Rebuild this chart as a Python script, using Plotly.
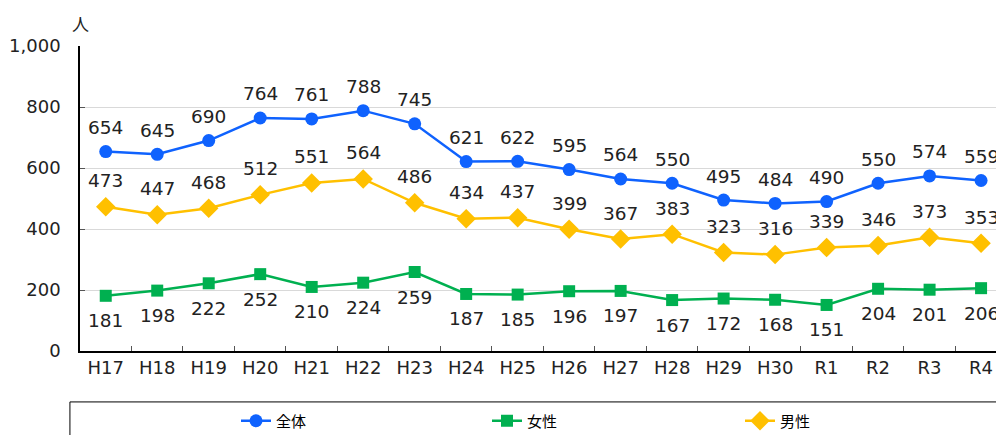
import plotly.graph_objects as go

categories = ["H17", "H18", "H19", "H20", "H21", "H22", "H23", "H24", "H25",
              "H26", "H27", "H28", "H29", "H30", "R1", "R2", "R3", "R4"]
total = [654, 645, 690, 764, 761, 788, 745, 621, 622, 595, 564, 550, 495, 484, 490, 550, 574, 559]
female = [181, 198, 222, 252, 210, 224, 259, 187, 185, 196, 197, 167, 172, 168, 151, 204, 201, 206]
male = [473, 447, 468, 512, 551, 564, 486, 434, 437, 399, 367, 383, 323, 316, 339, 346, 373, 353]
y_ticks = [0, 200, 400, 600, 800, 1000]
y_tick_labels = ["0", "200", "400", "600", "800", "1,000"]

FONT = "DejaVu Sans"
C_TOTAL = "#0F62FE"
C_FEMALE = "#00B050"
C_MALE = "#FFC000"

fig = go.Figure()
fig.add_trace(go.Scatter(x=categories, y=total, name="全体", mode="lines+markers",
                         line=dict(color=C_TOTAL, width=2.5), legend="legend",
                         marker=dict(symbol="circle", size=13, color=C_TOTAL)))
fig.add_trace(go.Scatter(x=categories, y=female, name="女性", mode="lines+markers",
                         line=dict(color=C_FEMALE, width=2.5), legend="legend2",
                         marker=dict(symbol="square", size=12, color=C_FEMALE)))
fig.add_trace(go.Scatter(x=categories, y=male, name="男性", mode="lines+markers",
                         line=dict(color=C_MALE, width=2.5), legend="legend3",
                         marker=dict(symbol="diamond", size=15, color=C_MALE)))

annotations = []
for series, shift in ((total, 24), (male, 26), (female, -25)):
    for c, v in zip(categories, series):
        annotations.append(dict(x=c, y=v, text=str(v), showarrow=False,
                                yshift=shift, xref="x", yref="y",
                                font=dict(family=FONT, size=18.5, color="#222222")))
annotations.append(dict(x=0, y=1, xref="paper", yref="paper", text="人",
                        showarrow=False, xanchor="center", yanchor="bottom",
                        yshift=8, font=dict(family="Noto Sans CJK JP", size=17, color="#222222")))

def leg(xpix):
    return dict(orientation="h", xref="container", yref="container",
                x=xpix / 996, xanchor="left", y=(435 - 421) / 435, yanchor="middle",
                font=dict(family="Noto Sans CJK JP", size=15, color="#000000"),
                bgcolor="rgba(0,0,0,0)", itemwidth=30)

fig.update_layout(
    width=996, height=435,
    margin=dict(l=80, r=0, t=46, b=84, autoexpand=False),
    paper_bgcolor="white", plot_bgcolor="white",
    font=dict(family=FONT, size=18, color="#222222"),
    showlegend=True,
    legend=leg(236), legend2=leg(487), legend3=leg(740),
    annotations=annotations,
    shapes=[dict(type="rect", xref="paper", yref="paper", x0=-0.011, x1=1.05,
                 y0=-0.167, y1=-0.45, line=dict(color="#000000", width=1))],
)
fig.update_xaxes(type="category", range=[-0.5, 17.29], showline=True, linecolor="#000000",
                 linewidth=1.5, ticks="inside", tickson="boundaries", ticklen=5,
                 tickcolor="#555555", showgrid=False, automargin=False,
                 tickfont=dict(family=FONT, size=18, color="#222222"))
fig.update_yaxes(range=[0, 1000], tickvals=y_ticks, ticktext=y_tick_labels,
                 showline=True, linecolor="#000000", linewidth=1.5, ticks="inside",
                 ticklen=5, tickcolor="#555555", showgrid=True, gridcolor="#D9D9D9",
                 gridwidth=1, ticklabelstandoff=14, zeroline=False, automargin=False,
                 tickfont=dict(family=FONT, size=18, color="#222222"))

fig.write_html("out.html", config={"displayModeBar": False},
               post_script="document.body.style.margin='0';document.body.style.overflow='hidden';")
